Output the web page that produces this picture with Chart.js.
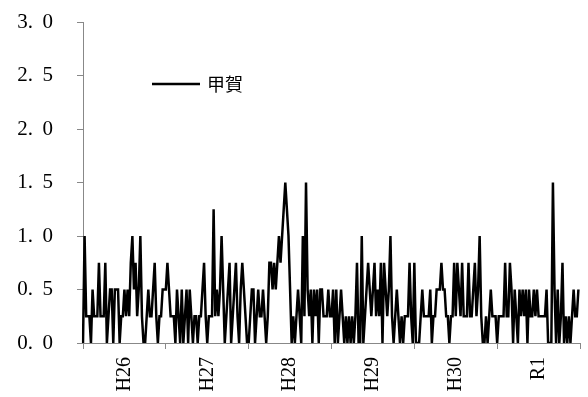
<!DOCTYPE html>
<html>
<head>
<meta charset="utf-8">
<script src="https://cdn.jsdelivr.net/npm/chart.js@4.4.0/dist/chart.umd.min.js"></script>
<style>
  html, body { margin: 0; padding: 0; background: #fff; }
  #wrap { width: 588px; height: 397px; }
</style>
</head>
<body>
<div id="wrap"><canvas id="koukaChart" width="588" height="397"></canvas></div>
<script>
// year groups on the x axis (weekly values, 52 per year)
var years = ["H26", "H27", "H28", "H29", "H30", "R1"];
var weeksPerYear = 52;
var seriesName = "甲賀";

var h26 = [0, 1, 0.25, 0.25, 0.25, 0, 0.5, 0.25, 0.25, 0.25, 0.75, 0.25, 0.25, 0.25, 0.75, 0, 0.25, 0.5, 0.5, 0, 0.5, 0.5, 0.5, 0, 0.25, 0.25,
           0.5, 0.25, 0.5, 0.25, 0.75, 1, 0.5, 0.75, 0.25, 0.5, 1, 0.25, 0, 0, 0.25, 0.5, 0.25, 0.25, 0.5, 0.75, 0.25, 0, 0.25, 0.25, 0.5, 0.5];
var h27 = [0.5, 0.75, 0.5, 0.25, 0.25, 0.25, 0, 0.5, 0.25, 0, 0.5, 0, 0.25, 0.5, 0, 0.5, 0.25, 0, 0.25, 0.25, 0, 0.25, 0.25, 0.5, 0.75, 0.25,
           0, 0.25, 0.25, 0.25, 1.25, 0.25, 0.5, 0.25, 0.5, 1, 0.5, 0, 0.25, 0.5, 0.75, 0, 0.25, 0.5, 0.75, 0.25, 0, 0.5, 0.75, 0.5, 0.25, 0];
var h28 = [0, 0.25, 0.5, 0.5, 0, 0.25, 0.5, 0.25, 0.25, 0.5, 0.25, 0, 0.25, 0.75, 0.75, 0.5, 0.75, 0.5, 0.75, 1, 0.75, 1, 1.25, 1.5, 1.25, 1,
           0.5, 0, 0.25, 0, 0.25, 0.5, 0.25, 0, 1, 0.25, 1.5, 0.5, 0.25, 0.5, 0, 0.5, 0.25, 0.5, 0, 0.5, 0.5, 0.25, 0.25, 0.25, 0.5, 0.25];
var h29 = [0.25, 0.5, 0, 0.5, 0, 0.25, 0.5, 0.25, 0, 0.25, 0, 0.25, 0, 0.25, 0, 0.25, 0.75, 0, 0, 1, 0, 0.25, 0.5, 0.75, 0.5, 0.25,
           0.5, 0.75, 0.25, 0.5, 0.25, 0.75, 0, 0.75, 0.5, 0.25, 0.5, 1, 0.25, 0, 0.25, 0.5, 0.25, 0, 0.25, 0, 0.25, 0.25, 0.25, 0.75, 0.25, 0];
var h30 = [0.75, 0, 0, 0, 0.25, 0.5, 0.25, 0.25, 0.25, 0.25, 0.5, 0, 0.25, 0.25, 0.5, 0.5, 0.5, 0.75, 0.5, 0.5, 0.25, 0.25, 0, 0.25, 0.25, 0.75,
           0.25, 0.75, 0.5, 0.25, 0.75, 0.25, 0.25, 0.25, 0.75, 0.25, 0.25, 0.5, 0.75, 0.25, 0.5, 1, 0.25, 0, 0, 0.25, 0, 0.25, 0.5, 0.25, 0.25, 0.25];
var r1 = [0, 0.25, 0.25, 0.25, 0.25, 0.75, 0.25, 0.25, 0.75, 0.5, 0, 0.5, 0.25, 0, 0.5, 0.25, 0.5, 0.25, 0.5, 0, 0.5, 0.25, 0.25, 0.5, 0.25, 0.5,
          0.25, 0.25, 0.25, 0.25, 0.25, 0.5, 0, 0, 0, 1.5, 0.5, 0, 0.5, 0, 0.25, 0.75, 0, 0.25, 0, 0.25, 0, 0.25, 0.5, 0.25, 0.25, 0.5];

var values = [].concat(h26, h27, h28, h29, h30, r1);

// one category per week, plus the closing boundary of the last year
var labels = [];
years.forEach(function(y) {
  for (var w = 1; w <= weeksPerYear; w++) labels.push(y + "-" + w);
});
labels.push("");

var legendInside = {
  id: 'legendInside',
  afterDraw: function(chart) {
    var ctx = chart.ctx;
    var ds = chart.data.datasets[0];
    var x = chart.chartArea.left + 69;
    var y = chart.chartArea.top + 62;
    ctx.save();
    ctx.strokeStyle = ds.borderColor;
    ctx.lineWidth = 2.5;
    ctx.beginPath();
    ctx.moveTo(x, y);
    ctx.lineTo(x + 48, y);
    ctx.stroke();
    ctx.fillStyle = '#000';
    ctx.font = '18px "Noto Sans CJK JP"';
    ctx.textBaseline = 'middle';
    ctx.fillText(ds.label, x + 55, y);
    ctx.restore();
  }
};

var ctx = document.getElementById("koukaChart");
var chart = new Chart(ctx, {
  type: 'line',
  data: {
    labels: labels,
    datasets: [{
      label: seriesName,
      data: values,
      borderColor: '#000',
      borderWidth: 2.5,
      pointRadius: 0,
      tension: 0,
      fill: false
    }]
  },
  options: {
    responsive: false,
    animation: false,
    layout: { padding: { top: 22, right: 8, bottom: 0, left: 0 } },
    plugins: {
      legend: { display: false },
      tooltip: { enabled: false }
    },
    scales: {
      x: {
        type: 'category',
        offset: false,
        afterFit: function(scale) {
          scale.height = 54;
          scale.paddingLeft = 0;
          scale.paddingRight = 0;
        },
        border: { color: '#888', width: 1 },
        grid: {
          drawOnChartArea: false,
          tickLength: 6,
          color: function(c) { return c.index % weeksPerYear === 0 ? '#888' : 'rgba(0,0,0,0)'; }
        },
        ticks: {
          autoSkip: false,
          maxRotation: 90,
          minRotation: 90,
          padding: 8,
          color: '#000',
          font: { family: '"Liberation Serif", serif', size: 20 },
          callback: function(val, i) {
            return i % weeksPerYear === 26 ? years[Math.floor(i / weeksPerYear)] : '';
          }
        }
      },
      y: {
        min: 0,
        max: 3,
        afterFit: function(scale) {
          scale.width = 83;
          scale.paddingTop = 0;
          scale.paddingBottom = 0;
        },
        border: { color: '#888', width: 1 },
        grid: { drawOnChartArea: false, tickLength: 6, color: '#888' },
        ticks: {
          stepSize: 0.5,
          padding: 24,
          color: '#000',
          font: { family: '"Liberation Serif", serif', size: 21 },
          callback: function(v) { return v.toFixed(1).replace('.', '. \u2009'); }
        }
      }
    }
  },
  plugins: [legendInside]
});
</script>
</body>
</html>
